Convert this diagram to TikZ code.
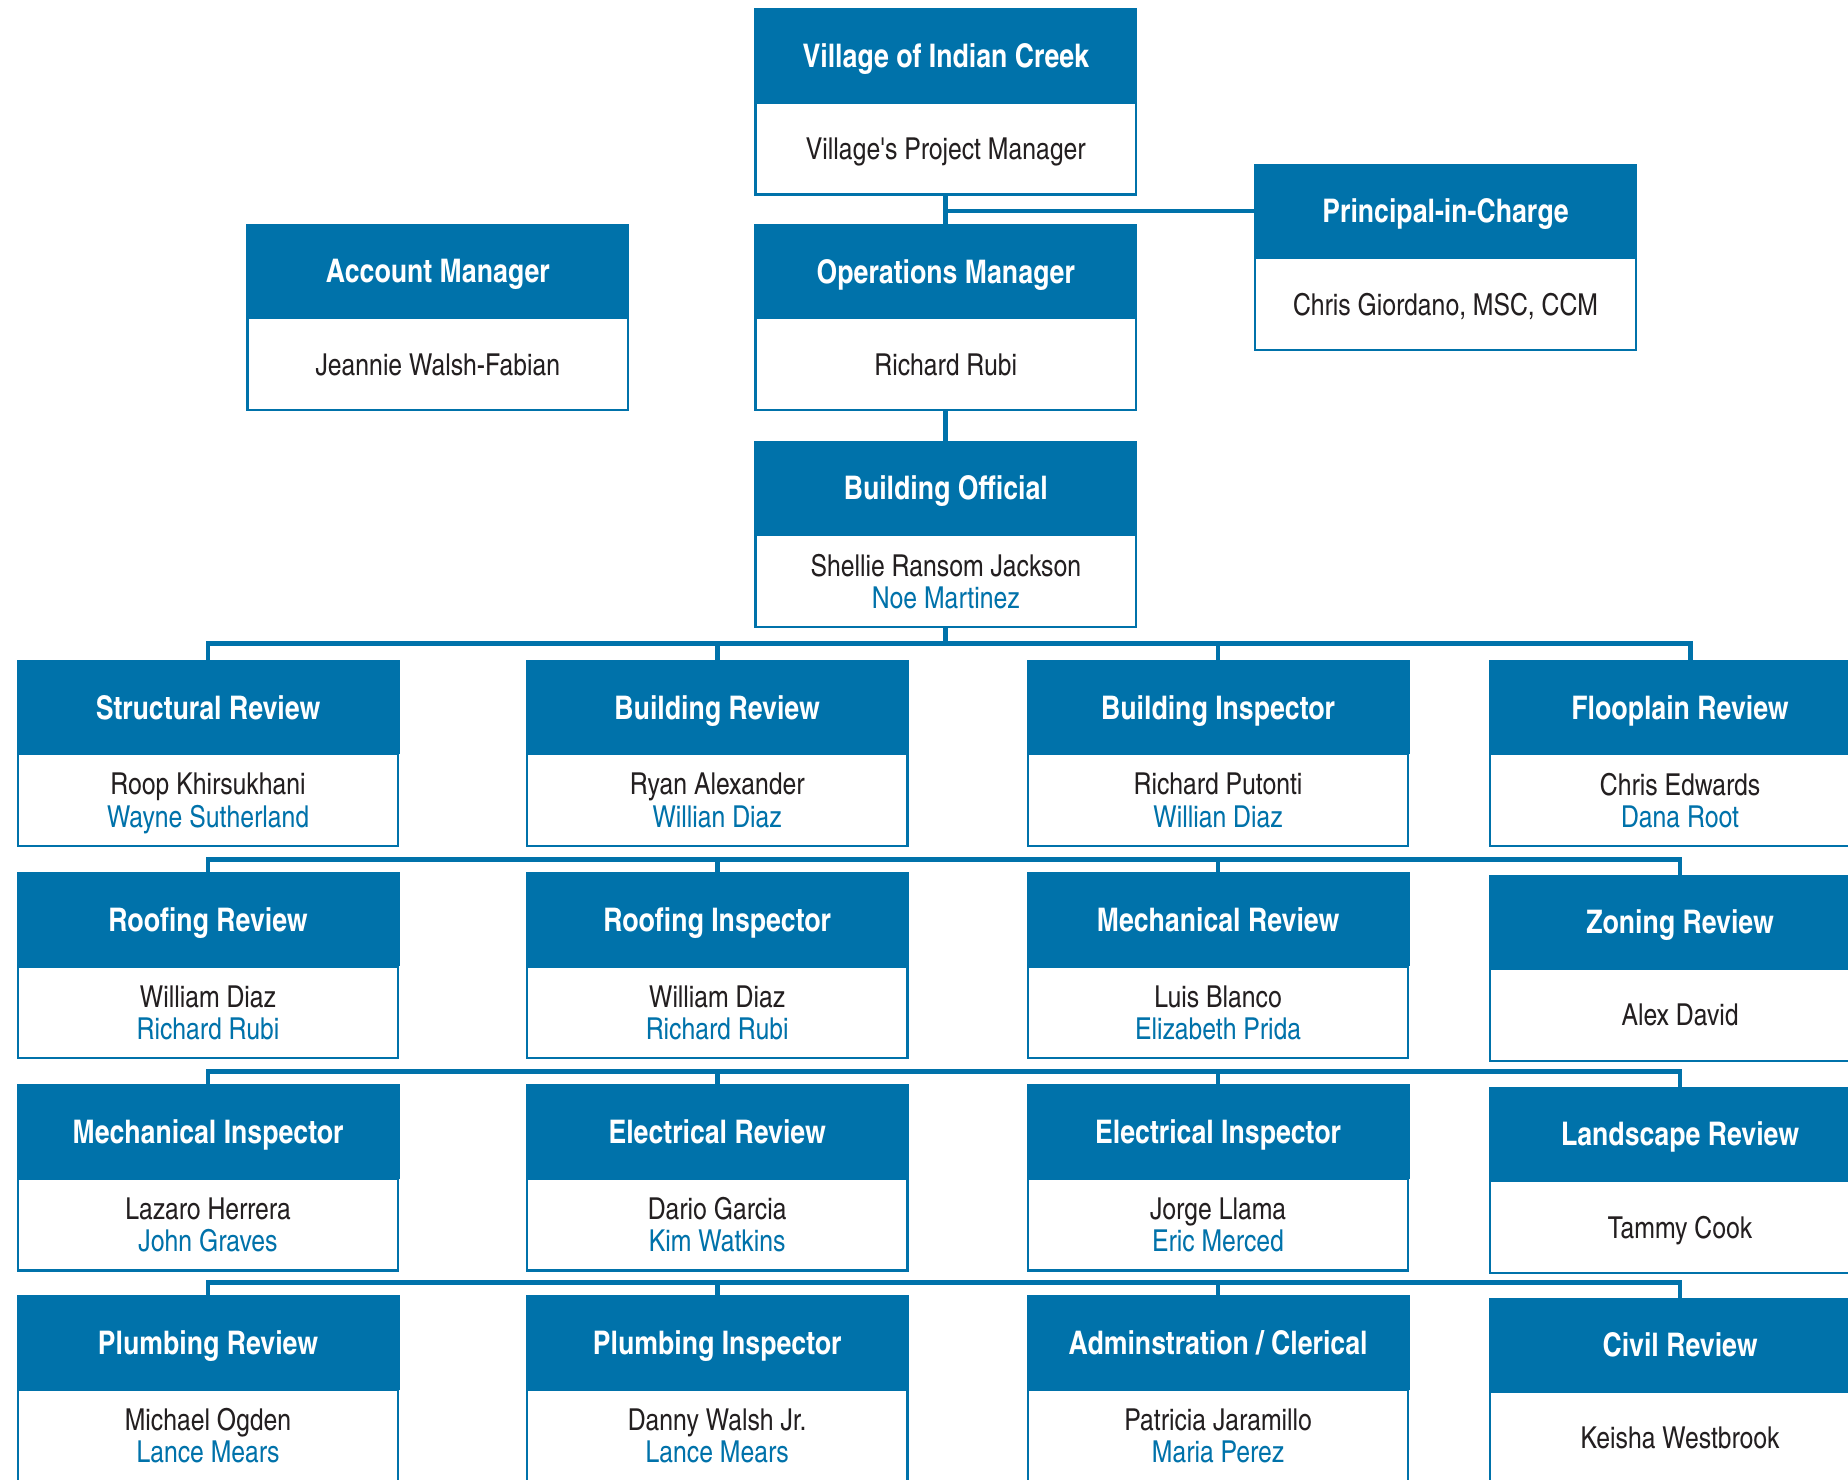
\documentclass[tikz,border=0pt]{standalone}
\usepackage{fontspec}
\setmainfont{texgyreheroscn}[Extension=.otf, UprightFont=*-regular, BoldFont=*-bold]
\usetikzlibrary{positioning}
\definecolor{icblue}{HTML}{0072AA}
\definecolor{icgray}{HTML}{231F20}
\begin{document}
\begin{tikzpicture}[x=1pt, y=-1pt,
      head/.style = {anchor=north west, fill=icblue, text=white, inner sep=0pt, outer sep=0pt,
        minimum width=325pt, minimum height=80pt, text depth=0pt,
        font=\bfseries\fontsize{27.6}{30}\selectfont},
      body/.style = {below=0pt of #1, draw=icblue, line width=1.8pt, fill=white, text=icgray,
        inner sep=0pt, outer sep=0pt, minimum width=323pt, minimum height=78pt, align=center,
        text depth=0pt, font=\fontsize{25.6}{27.4}\selectfont},
      link/.style = {draw=icblue, line width=4pt}]
      \useasboundingbox (0,0) rectangle (1568,1255);
      \clip (0,0) rectangle (1568,1255);

      \node[head] (vicH) at (640,7) {Village of Indian Creek};
      \node[body=vicH] (vicB) {Village\textquotesingle s Project Manager};
      \node[head] (acmH) at (209,190) {Account Manager};
      \node[body=acmH] (acmB) {Jeannie Walsh-Fabian};
      \node[head] (opmH) at (640,190) {Operations Manager};
      \node[body=opmH] (opmB) {Richard Rubi};
      \node[head] (picH) at (1064,139) {Principal-in-Charge};
      \node[body=picH] (picB) {Chris Giordano, MSC, CCM};
      \node[head] (bofH) at (640,374) {Building Official};
      \node[body=bofH] (bofB) {Shellie Ransom Jackson\\\textcolor{icblue}{Noe Martinez}};

      \node[head] (strH) at (14,560) {Structural Review};
      \node[body=strH] (strB) {Roop Khirsukhani\\\textcolor{icblue}{Wayne Sutherland}};
      \node[head] (bdrH) at (446,560) {Building Review};
      \node[body=bdrH] (bdrB) {Ryan Alexander\\\textcolor{icblue}{Willian Diaz}};
      \node[head] (bdiH) at (871,560) {Building Inspector};
      \node[body=bdiH] (bdiB) {Richard Putonti\\\textcolor{icblue}{Willian Diaz}};
      \node[head] (flpH) at (1263,560) {Flooplain Review};
      \node[body=flpH] (flpB) {Chris Edwards\\\textcolor{icblue}{Dana Root}};

      \node[head] (rfrH) at (14,740) {Roofing Review};
      \node[body=rfrH] (rfrB) {William Diaz\\\textcolor{icblue}{Richard Rubi}};
      \node[head] (rfiH) at (446,740) {Roofing Inspector};
      \node[body=rfiH] (rfiB) {William Diaz\\\textcolor{icblue}{Richard Rubi}};
      \node[head] (mcrH) at (871,740) {Mechanical Review};
      \node[body=mcrH] (mcrB) {Luis Blanco\\\textcolor{icblue}{Elizabeth Prida}};
      \node[head] (znrH) at (1263,742) {Zoning Review};
      \node[body=znrH] (znrB) {Alex David};

      \node[head] (mciH) at (14,920) {Mechanical Inspector};
      \node[body=mciH] (mciB) {Lazaro Herrera\\\textcolor{icblue}{John Graves}};
      \node[head] (elrH) at (446,920) {Electrical Review};
      \node[body=elrH] (elrB) {Dario Garcia\\\textcolor{icblue}{Kim Watkins}};
      \node[head] (eliH) at (871,920) {Electrical Inspector};
      \node[body=eliH] (eliB) {Jorge Llama\\\textcolor{icblue}{Eric Merced}};
      \node[head] (lsrH) at (1263,922) {Landscape Review};
      \node[body=lsrH] (lsrB) {Tammy Cook};

      \node[head] (plrH) at (14,1099) {Plumbing Review};
      \node[body=plrH] (plrB) {Michael Ogden\\\textcolor{icblue}{Lance Mears}};
      \node[head] (pliH) at (446,1099) {Plumbing Inspector};
      \node[body=pliH] (pliB) {Danny Walsh Jr.\\\textcolor{icblue}{Lance Mears}};
      \node[head] (admH) at (871,1099) {Adminstration / Clerical};
      \node[body=admH] (admB) {Patricia Jaramillo\\\textcolor{icblue}{Maria Perez}};
      \node[head] (cvrH) at (1263,1101) {Civil Review};
      \node[body=cvrH] (cvrB) {Keisha Westbrook};

      \draw[link] (vicB.south) -- (opmH.north);
      \draw[link] (picH.west) -| (vicB.south);
      \draw[link] (opmB.south) -- (bofH.north);
      \foreach \n in {strH,bdrH,bdiH}
        \draw[link] (bofB.south) -- ++(0,14) -| (\n.north);
      \draw[link] (bofB.south) -- ++(0,14) -| ([xshift=9pt]flpH.north);
      \foreach \n in {rfiH,mcrH,znrH}
        \draw[link] (rfrH.north) -- ++(0,-11) -| (\n.north);
      \foreach \n in {elrH,eliH,lsrH}
        \draw[link] (mciH.north) -- ++(0,-11) -| (\n.north);
      \foreach \n in {pliH,admH,cvrH}
        \draw[link] (plrH.north) -- ++(0,-11) -| (\n.north);
    \end{tikzpicture}
\end{document}
